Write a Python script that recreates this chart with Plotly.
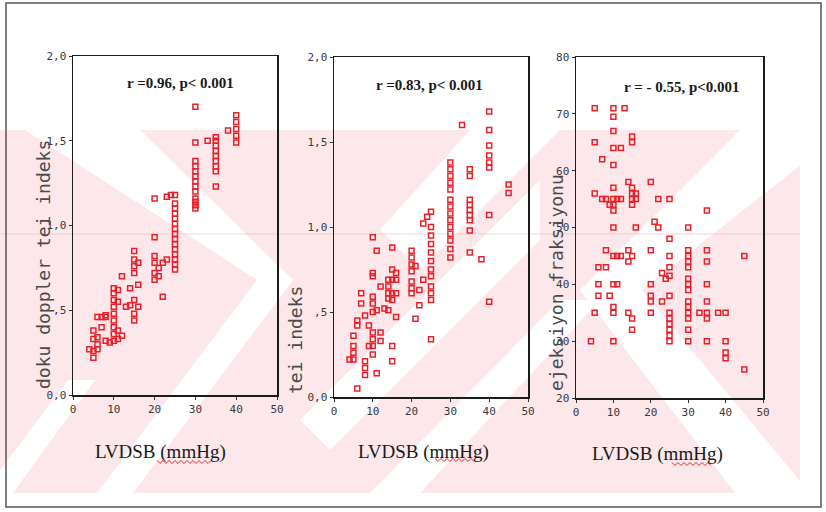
import plotly.graph_objects as go

# ---------------- data ----------------
x1 = [4, 5, 5, 5, 5, 6, 6, 6, 6, 7, 7, 8, 8, 8, 9,
      10, 10, 10, 10, 10, 10, 10, 10, 10,
      11, 11, 11, 11, 12, 12, 13, 14, 14,
      15, 15, 15, 15, 15, 15, 15, 16, 16, 16,
      20, 20, 20, 20, 20, 20, 21, 21, 22, 22, 23, 23, 24,
      25, 25, 25, 25, 25, 25, 25, 25, 25, 25, 25, 25, 25, 25, 25,
      30, 30, 30, 30, 30, 30, 30, 30, 30, 30, 30, 30, 30,
      33, 35, 35, 35, 35, 35, 35, 35, 35, 35, 38, 40, 40, 40, 40, 40]
y1 = [0.27, 0.22, 0.26, 0.33, 0.38, 0.27, 0.30, 0.34, 0.46, 0.40, 0.46, 0.46, 0.32, 0.47, 0.31,
      0.32, 0.36, 0.40, 0.44, 0.48, 0.52, 0.56, 0.60, 0.63,
      0.62, 0.55, 0.38, 0.33, 0.35, 0.70, 0.52, 0.53, 0.63,
      0.44, 0.48, 0.56, 0.72, 0.76, 0.80, 0.85, 0.78, 0.65, 0.52,
      1.16, 0.93, 0.82, 0.78, 0.72, 0.68, 0.75, 0.70, 0.58, 0.78, 0.80, 1.17, 1.18,
      1.18, 1.13, 1.10, 1.07, 1.04, 1.01, 0.98, 0.95, 0.92, 0.89, 0.86, 0.83, 0.80, 0.77, 0.74,
      1.70, 1.49, 1.38, 1.35, 1.32, 1.29, 1.26, 1.23, 1.20, 1.16, 1.14, 1.12, 1.10,
      1.50, 1.52, 1.50, 1.47, 1.44, 1.41, 1.38, 1.35, 1.32, 1.23, 1.56, 1.65, 1.61, 1.57, 1.53, 1.49]

x2 = [6, 4, 5, 5, 5, 5, 6, 6, 7, 7, 8, 8, 8, 8, 9, 9,
      10, 10, 10, 10, 10, 10, 10, 10, 10, 10,
      11, 11, 11, 12, 12, 12, 13, 14, 14, 14, 14, 14,
      15, 15, 15, 15, 15, 15, 15, 16, 16, 16, 16,
      20, 20, 20, 20, 20, 20, 20, 21, 21, 22, 22, 23, 23, 24,
      25, 25, 25, 25, 25, 25, 25, 25, 25, 25, 25, 25,
      30, 30, 30, 30, 30, 30, 30, 30, 30, 30, 30, 30, 30, 30,
      33, 35, 35, 35, 35, 35, 35, 35, 35, 35, 38,
      40, 40, 40, 40, 40, 40, 40, 40, 45, 45]
y2 = [0.05, 0.22, 0.22, 0.36, 0.30, 0.26, 0.45, 0.42, 0.61, 0.55, 0.48, 0.21, 0.17, 0.13, 0.42, 0.30,
      0.94, 0.73, 0.71, 0.59, 0.55, 0.50, 0.38, 0.34, 0.30, 0.25,
      0.86, 0.51, 0.14, 0.38, 0.33, 0.65, 0.52, 0.69, 0.65, 0.61, 0.51, 0.58,
      0.88, 0.75, 0.69, 0.61, 0.57, 0.30, 0.21, 0.73, 0.69, 0.61, 0.47,
      0.86, 0.82, 0.78, 0.74, 0.68, 0.64, 0.61, 0.77, 0.46, 0.63, 0.54, 1.02, 0.69, 1.06,
      1.09, 1.00, 0.95, 0.90, 0.85, 0.80, 0.75, 0.71, 0.65, 0.61, 0.57, 0.34,
      1.38, 1.34, 1.30, 1.26, 1.22, 1.16, 1.12, 1.08, 1.04, 1.00, 0.96, 0.92, 0.87, 0.82,
      1.60, 1.34, 1.30, 1.16, 1.13, 1.10, 1.07, 1.04, 0.98, 0.85, 0.81,
      1.68, 1.57, 1.48, 1.42, 1.38, 1.35, 1.07, 0.56, 1.25, 1.20]

x3 = [5, 5, 5, 5, 4, 7, 7, 8, 6, 6, 6, 8, 8, 9, 9,
      10, 10, 10, 10, 10, 10, 10, 10, 10, 10, 10, 10, 10, 10, 10,
      11, 12, 11, 11, 12, 12, 13,
      14, 14, 14, 14, 15, 15, 15, 15, 15, 15, 15, 15, 15, 16, 16, 16,
      20, 20, 20, 20, 20, 20, 21, 22, 22, 23, 24, 23,
      25, 25, 25, 25, 25, 25, 25, 25, 25, 25, 25, 25,
      30, 30, 30, 30, 30, 30, 30, 30, 30, 30, 30, 30, 30, 30,
      33, 35, 35, 35, 35, 35, 35, 35, 35, 38, 40, 40, 40, 40, 45, 45]
y3 = [71, 65, 56, 35, 30, 62, 55, 55, 43, 40, 38, 46, 43, 38, 54,
      71, 69.5, 67, 64, 61, 57, 55, 54, 53, 50, 45, 40, 36, 35, 30,
      45, 45, 40, 55, 55, 64, 71,
      58, 46, 44, 35, 45, 34, 32, 66, 65, 57, 56, 55, 54, 56, 55, 50,
      58, 46, 40, 38, 37, 35, 51, 50, 55, 42, 41, 37,
      55, 48, 45, 43, 41.5, 38, 35, 34, 33, 32, 31, 30,
      50, 46, 45, 44, 43, 41, 40, 39, 37, 36, 35, 34, 32, 30,
      35, 53, 46, 44, 40, 37, 35, 34, 30, 35, 35, 30, 28, 27, 45, 25]

x_ticks = [0, 10, 20, 30, 40, 50]
y_ticks_ab = [0, 0.5, 1.0, 1.5, 2.0]
y_labels_ab = ["0,0", ",5", "1,0", "1,5", "2,0"]
y_ticks_c = [20, 30, 40, 50, 60, 70, 80]
y_labels_c = ["20", "30", "40", "50", "60", "70", "80"]

x_title = "LVDSB (mmHg)"
y_titles = ["doku doppler tei indeks", "tei indeks", "ejeksiyon fraksiyonu"]
r_texts = ["r =0.96, p< 0.001", "r =0.83, p< 0.001", "r = - 0.55, p<0.001"]

# ---------------- styling ----------------
W, H = 826, 512
RED = "#e8202a"


def fx(p):
    return p / W


def fy(p):
    return 1 - p / H


fig = go.Figure()
marker = dict(symbol="square-open", size=5, color=RED, line=dict(width=1.5, color=RED))
for i, (xs, ys) in enumerate([(x1, y1), (x2, y2), (x3, y3)]):
    sfx = "" if i == 0 else str(i + 1)
    fig.add_trace(go.Scatter(x=xs, y=ys, mode="markers", marker=marker,
                             xaxis="x" + sfx, yaxis="y" + sfx, showlegend=False,
                             hoverinfo="skip"))

boxes = [(73, 277, 56, 395), (334, 528, 57, 397), (576, 763, 57, 398)]
tickfont = dict(family="DejaVu Sans Mono", size=11, color="#3a3a3a")
axis_common = dict(showgrid=False, zeroline=False, showline=True, linecolor="#1c1c1c",
                   linewidth=1.5, mirror=True, ticks="outside", ticklen=3,
                   tickcolor="#333", tickwidth=1, tickfont=tickfont, automargin=False)

layout = dict(width=W, height=H, margin=dict(l=0, r=0, t=0, b=0, pad=0, autoexpand=False),
              paper_bgcolor="white", plot_bgcolor="rgba(0,0,0,0)", showlegend=False)
for i, (l, r, t, b) in enumerate(boxes):
    sfx = "" if i == 0 else str(i + 1)
    layout["xaxis" + sfx] = dict(axis_common, domain=[fx(l), fx(r)], range=[0, 50],
                                 tickvals=x_ticks, anchor="y" + sfx)
    if i < 2:
        yv, yl, yr = y_ticks_ab, y_labels_ab, [0, 2]
    else:
        yv, yl, yr = y_ticks_c, y_labels_c, [20, 80]
    layout["yaxis" + sfx] = dict(axis_common, domain=[fy(b), fy(t)], range=yr,
                                 tickvals=yv, ticktext=yl, anchor="x" + sfx)
fig.update_layout(**layout)

# annotations
ann = []
r_pos = [(180, 83), (429, 85), (682, 87)]
for (x, y), t in zip(r_pos, r_texts):
    ann.append(dict(x=fx(x), y=fy(y), xref="paper", yref="paper", text="<b>" + t + "</b>",
                    xanchor="center", yanchor="middle", showarrow=False,
                    font=dict(family="Liberation Serif", size=15, color="#1a1a1a")))
xt_pos = [(160, 452), (423, 452), (657, 454)]
for (x, y) in xt_pos:
    ann.append(dict(x=fx(x), y=fy(y), xref="paper", yref="paper", text=x_title,
                    xanchor="center", yanchor="middle", showarrow=False,
                    font=dict(family="Liberation Serif", size=19, color="#1a1a1a")))
yt_pos = [(43, 265), (295, 340), (556, 283)]
for (x, y), t in zip(yt_pos, y_titles):
    ann.append(dict(x=fx(x), y=fy(y), xref="paper", yref="paper", text=t, textangle=-90,
                    xanchor="center", yanchor="middle", showarrow=False,
                    font=dict(family="DejaVu Sans Mono", size=18, color="#4a4a4a")))
fig.update_layout(annotations=ann)

# background watermark (pink wash with white diagonal bands) + frame
shapes = []
PINK = "rgb(252,231,234)"
shapes.append(dict(type="rect", xref="paper", yref="paper", x0=0, x1=1, y0=fy(493), y1=fy(130),
                   fillcolor=PINK, line=dict(width=0), layer="below"))


def poly(pts, color="white"):
    path = "M " + " L ".join(f"{fx(a):.5f},{fy(b):.5f}" for a, b in pts) + " Z"
    return dict(type="path", path=path, xref="paper", yref="paper", fillcolor=color,
                line=dict(width=0), layer="below")


white_bands = [
    # left chevron ">"
    [(25, 130), (140, 130), (293, 280), (257, 280)],
    [(257, 280), (293, 280), (133, 493), (97, 493)],
    # bottom-left "/" band
    [(0, 470), (68, 380), (95, 380), (13, 493), (0, 493)],
    # middle "/" bands
    [(300, 420), (540, 180), (540, 240), (330, 450)],
    [(370, 493), (560, 300), (600, 300), (420, 493)],
    # right chevron "<"
    [(740, 130), (826, 130), (826, 145), (642, 290), (580, 290)],
    [(580, 290), (642, 290), (810, 493), (735, 493)],
    [(470, 130), (560, 130), (420, 270), (380, 230)],
    # right edge
    [(800, 130), (826, 130), (826, 493), (800, 493)],
]
for b in white_bands:
    shapes.append(poly(b))

shapes.append(dict(type="line", xref="paper", yref="paper", x0=0, x1=fx(800), y0=fy(234), y1=fy(234),
                   line=dict(color="rgba(215,195,200,0.6)", width=1), layer="below"))

# red wavy underline under "mmHg"
for (x0, x1, y) in [(157, 213, 462), (435, 476, 460), (672, 712, 464)]:
    pts = []
    xx, k = x0, 0
    while xx <= x1:
        pts.append((xx, y + (1.5 if k % 2 else -1.5)))
        xx += 3
        k += 1
    path = "M " + " L ".join(f"{fx(a):.5f},{fy(b):.5f}" for a, b in pts)
    shapes.append(dict(type="path", path=path, xref="paper", yref="paper",
                       line=dict(color="#e03030", width=1)))

# outer frame
shapes.append(dict(type="rect", xref="paper", yref="paper", x0=fx(6), x1=fx(821), y0=fy(507), y1=fy(3),
                   line=dict(color="#555", width=1.5)))
fig.update_layout(shapes=shapes)

fig.write_html("out.html", config={"displayModeBar": False, "staticPlot": True},
               post_script="document.body.style.margin='0';document.body.style.overflow='hidden';")
